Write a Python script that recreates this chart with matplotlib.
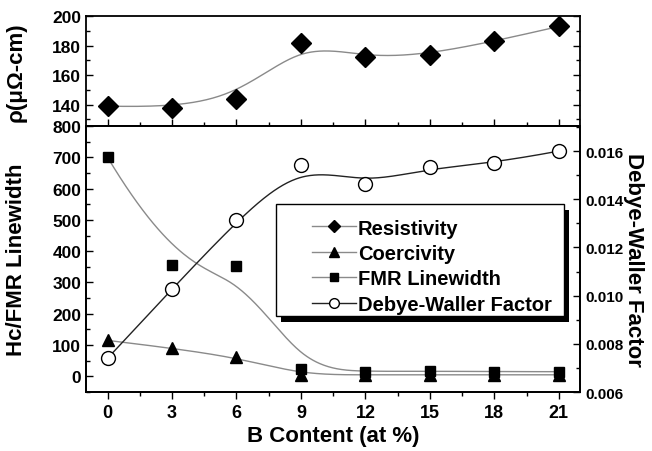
import numpy as np
import matplotlib
matplotlib.use("Agg")
import matplotlib.pyplot as plt
from matplotlib.lines import Line2D
from matplotlib.patches import Rectangle
from matplotlib.ticker import MultipleLocator, FormatStrFormatter

plt.rcParams['font.family'] = ['Liberation Sans', 'DejaVu Sans']
plt.rcParams['font.weight'] = 'bold'

# === Data ===
b_content = [0, 3, 6, 9, 12, 15, 18, 21]
resistivity = [139, 138, 144, 182, 172, 174, 183, 193]
coercivity = [115, 90, 62, 5, 5, 5, 5, 5]
fmr_linewidth = [700, 357, 352, 25, 15, 17, 15, 15]
debye_waller = [0.0074, 0.01027, 0.01314, 0.01542, 0.01463, 0.01532, 0.0155, 0.0160]
x_ticks = [0, 3, 6, 9, 12, 15, 18, 21]


# === B-spline through the data as control points (like Origin's B-spline connect) ===
def bspline(xs, ys, n=300, k=3):
    P = np.column_stack([xs, ys]).astype(float)
    m = len(P)
    t = np.concatenate([np.zeros(k), np.arange(m - k + 1), np.full(k, m - k)]).astype(float)
    u = np.linspace(0, m - k, n)
    B = np.zeros((n, len(t) - 1))
    for i in range(len(t) - 1):
        B[:, i] = (u >= t[i]) & (u < t[i + 1])
    B[u == t[-1], :] = 0
    B[u == t[-1], m - 1] = 1
    for p in range(1, k + 1):
        Bn = np.zeros((n, len(t) - 1 - p))
        for i in range(len(t) - 1 - p):
            d1 = t[i + p] - t[i]
            d2 = t[i + p + 1] - t[i + 1]
            a = (u - t[i]) / d1 * B[:, i] if d1 > 0 else 0
            b = (t[i + p + 1] - u) / d2 * B[:, i + 1] if d2 > 0 else 0
            Bn[:, i] = a + b
        B = Bn
    C = B @ P
    return C[:, 0], C[:, 1]


fig = plt.figure(figsize=(6.52, 4.52), dpi=100)
ax_top = fig.add_axes([0.132, 0.719, 0.758, 0.243])
ax = fig.add_axes([0.132, 0.1305, 0.758, 0.5885])
ax2 = ax.twinx()

grey = '#8a8a8a'
dark = '#222222'

# === Top panel: resistivity ===
cx, cy = bspline(b_content, resistivity)
ax_top.plot(cx, cy, color=grey, lw=1)
ax_top.plot(b_content, resistivity, 'D', color='black', ms=10, ls='none')
ax_top.set_xlim(-1, 22)
ax_top.set_ylim(125.5, 200)
ax_top.set_yticks([140, 160, 180, 200])
ax_top.yaxis.set_minor_locator(MultipleLocator(10))
ax_top.set_xticks(x_ticks)
ax_top.xaxis.set_minor_locator(MultipleLocator(1.5))
ax_top.tick_params(which='both', direction='in', right=True, labelbottom=False, labelsize=12.5, width=1)
ax_top.tick_params(which='major', length=5)
ax_top.tick_params(which='minor', length=3)
ax_top.set_ylabel('ρ(μΩ-cm)', fontsize=16, fontweight='bold')
ax_top.yaxis.set_label_coords(-0.12, 0.5)

# === Bottom panel: coercivity / FMR linewidth ===
cx, cy = bspline(b_content, fmr_linewidth)
ax.plot(cx, cy, color=grey, lw=1)
cx, cy = bspline(b_content, coercivity)
ax.plot(cx, cy, color=grey, lw=1)
ax.plot(b_content, fmr_linewidth, 's', color='black', ms=7.5)
ax.plot(b_content, coercivity, '^', color='black', ms=9)
ax.set_xlim(-1, 22)
ax.set_ylim(-50, 800)
ax.set_yticks(np.arange(0, 801, 100))
ax.yaxis.set_minor_locator(MultipleLocator(50))
ax.set_xticks(x_ticks)
ax.xaxis.set_minor_locator(MultipleLocator(1.5))
ax.tick_params(axis='y', which='both', direction='in', labelsize=12.5, width=1)
ax.tick_params(axis='x', which='both', direction='out', labelsize=13, width=1)
ax.tick_params(which='major', length=5)
ax.tick_params(which='minor', length=3)
ax.set_ylabel('Hc/FMR Linewidth', fontsize=16, fontweight='bold')
ax.yaxis.set_label_coords(-0.12, 0.5)
ax.set_xlabel('B Content (at %)', fontsize=16, fontweight='bold', labelpad=3)

# === Right axis: Debye-Waller factor ===
cx, cy = bspline(b_content, debye_waller)
ax2.plot(cx, cy, color=dark, lw=1)
ax2.plot(b_content, debye_waller, 'o', mfc='white', mec='black', ms=10, mew=1)
ax2.set_ylim(0.006, 0.01704)
ax2.set_yticks([0.006, 0.008, 0.010, 0.012, 0.014, 0.016])
ax2.yaxis.set_major_formatter(FormatStrFormatter('%.3f'))
ax2.yaxis.set_minor_locator(MultipleLocator(0.001))
ax2.tick_params(which='both', direction='in', labelsize=11, width=1)
ax2.tick_params(which='major', length=5)
ax2.tick_params(which='minor', length=3)
ax2.set_ylabel('Debye-Waller Factor', fontsize=16, fontweight='bold', rotation=270, labelpad=18)
ax2.yaxis.set_label_coords(1.128, 0.5)

for a in (ax_top, ax, ax2):
    for s in a.spines.values():
        s.set_linewidth(1.3)

# === Legend with hard shadow ===
ax2.add_patch(Rectangle((0.395, 0.264), 0.583, 0.421, transform=ax2.transAxes,
                        facecolor='black', edgecolor='none', zorder=4, clip_on=False))
ax2.add_patch(Rectangle((0.385, 0.286), 0.583, 0.421, transform=ax2.transAxes,
                        facecolor='white', edgecolor='black', lw=1, zorder=4.5, clip_on=False))
handles = [
    Line2D([], [], color=grey, lw=1, marker='D', mfc='black', mec='black', ms=6),
    Line2D([], [], color=grey, lw=1, marker='^', mfc='black', mec='black', ms=7),
    Line2D([], [], color=grey, lw=1, marker='s', mfc='black', mec='black', ms=6),
    Line2D([], [], color=dark, lw=1, marker='o', mfc='white', mec='black', ms=7),
]
labels = ['Resistivity', 'Coercivity', 'FMR Linewidth', 'Debye-Waller Factor']
leg = ax2.legend(handles, labels, loc='upper left', bbox_to_anchor=(0.436, 0.69),
                 frameon=False, borderpad=0, handlelength=2.2, handletextpad=0.1,
                 labelspacing=0.32, prop={'size': 14.5, 'weight': 'bold'})
leg.set_zorder(5)

fig.savefig('out.png', dpi=100)
